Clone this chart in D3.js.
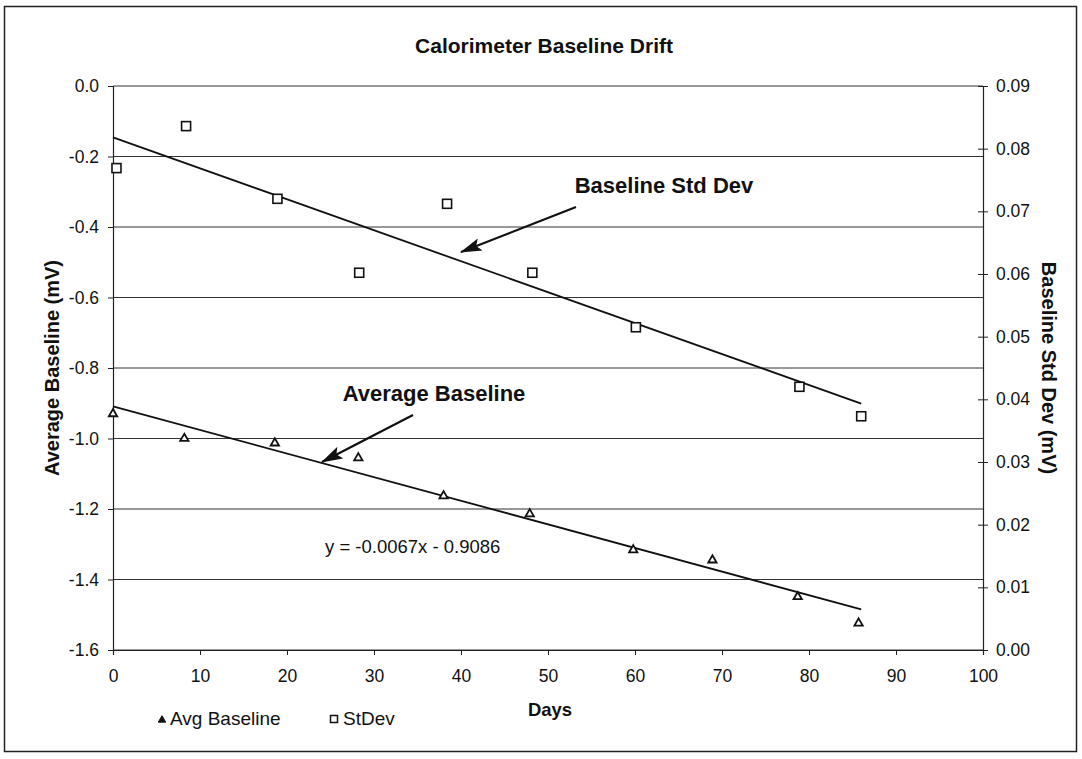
<!DOCTYPE html>
<html><head><meta charset="utf-8">
<script src="https://cdn.jsdelivr.net/npm/d3@7"></script>
<style>body{margin:0;background:#fff}svg{display:block}text{font-family:"Liberation Sans",Arial,sans-serif;fill:#111}</style>
</head><body><svg id="c" width="1082" height="759"></svg>
<script>
const days = [0, 8.2, 18.6, 28.2, 38.0, 47.9, 59.8, 68.9, 78.7, 85.7];
const avgBaseline = [-0.93, -1.0, -1.013, -1.055, -1.163, -1.214, -1.316, -1.345, -1.449, -1.524];
const sdDays = [0.4, 8.4, 18.9, 28.3, 38.4, 48.2, 60.1, 78.9, 86.0];
const stDev = [0.0769, 0.0836, 0.0720, 0.0602, 0.0712, 0.0602, 0.0515, 0.0420, 0.0373];
const avgTrend = [-0.0067, -0.9086];   // slope, intercept
const sdTrend = [-0.000494, 0.0818];
const trendRange = [0, 86];
const xTicks = [0,10,20,30,40,50,60,70,80,90,100];
const yLeftTicks = [0,-0.2,-0.4,-0.6,-0.8,-1.0,-1.2,-1.4,-1.6];
const yRightTicks = [0,0.01,0.02,0.03,0.04,0.05,0.06,0.07,0.08,0.09];

const svg = d3.select("#c");
const L = 113, R = 983, T = 86, B = 650;
const x = d3.scaleLinear().domain([0,100]).range([L,R]);
const yL = d3.scaleLinear().domain([-1.6,0]).range([B,T]);
const yR = d3.scaleLinear().domain([0,0.09]).range([B,T]);
const FF = "Liberation Sans, Arial, sans-serif";

svg.append("rect").attr("x",4.5).attr("y",6.5).attr("width",1072).attr("height",745)
  .attr("fill","none").attr("stroke","#222").attr("stroke-width",1.5);

// gridlines
svg.append("g").selectAll("line").data(yLeftTicks).join("line")
  .attr("x1",L).attr("x2",R).attr("y1",d=>yL(d)).attr("y2",d=>yL(d))
  .attr("stroke","#333").attr("stroke-width",1);

// axes
const gx = svg.append("g").attr("transform",`translate(0,${B})`)
  .call(d3.axisBottom(x).tickValues(xTicks).tickSize(5).tickPadding(15).tickFormat(d3.format("d")));
const gl = svg.append("g").attr("transform",`translate(${L},0)`)
  .call(d3.axisLeft(yL).tickValues(yLeftTicks).tickSize(5).tickPadding(9).tickFormat(d=>d3.format(".1f")(d).replace("−","-")));
const gr = svg.append("g").attr("transform",`translate(${R},0)`)
  .call(d3.axisRight(yR).tickValues(yRightTicks).tickSize(5).tickPadding(8).tickFormat(d3.format(".2f")));
[gx,gl,gr].forEach(g=>{
  g.select(".domain").attr("stroke","#222").attr("stroke-width",1.2);
  g.selectAll(".tick line").attr("stroke","#222");
  g.selectAll("text").attr("font-size",17.5).attr("fill","#111").attr("font-family",FF);
});
gr.selectAll(".tick line").attr("x1",-5);

// trend lines
const line = d3.line();
const tl = (c,ys)=>trendRange.map(d=>[x(d), ys(c[0]*d+c[1])]);
svg.append("path").attr("d",line(tl(avgTrend,yL))).attr("stroke","#111").attr("stroke-width",1.8).attr("fill","none");
svg.append("path").attr("d",line(tl(sdTrend,yR))).attr("stroke","#111").attr("stroke-width",1.8).attr("fill","none");

// markers
const tri = d3.symbol().type(d3.symbolTriangle).size(30);
svg.append("g").selectAll("path").data(days).join("path")
  .attr("d",tri).attr("transform",(d,i)=>`translate(${x(d)},${yL(avgBaseline[i])})`)
  .attr("fill","#fff").attr("stroke","#111").attr("stroke-width",1.8);
svg.append("g").selectAll("rect").data(sdDays).join("rect")
  .attr("x",d=>x(d)-4.5).attr("y",(d,i)=>yR(stDev[i])-4.5).attr("width",9).attr("height",9)
  .attr("fill","#fff").attr("stroke","#111").attr("stroke-width",1.6);

// arrows
const defs = svg.append("defs");
defs.append("marker").attr("id","ah").attr("viewBox","0 0 20 12").attr("refX",19).attr("refY",6)
  .attr("markerWidth",22).attr("markerHeight",13).attr("markerUnits","userSpaceOnUse").attr("orient","auto")
  .append("path").attr("d","M0,0 L20,6 L0,12 L4,6 z").attr("fill","#111");
svg.append("line").attr("x1",576).attr("y1",207).attr("x2",461).attr("y2",252)
  .attr("stroke","#111").attr("stroke-width",2.2).attr("marker-end","url(#ah)");
svg.append("line").attr("x1",413).attr("y1",415).attr("x2",322).attr("y2",462)
  .attr("stroke","#111").attr("stroke-width",2.2).attr("marker-end","url(#ah)");

// texts
svg.append("text").attr("x",544).attr("y",53).attr("text-anchor","middle")
  .attr("font-size",21).attr("font-weight","bold").text("Calorimeter Baseline Drift");
svg.append("text").attr("x",664).attr("y",193).attr("text-anchor","middle")
  .attr("font-size",22).attr("font-weight","bold").text("Baseline Std Dev");
svg.append("text").attr("x",434).attr("y",401).attr("text-anchor","middle")
  .attr("font-size",22).attr("font-weight","bold").text("Average Baseline");
svg.append("text").attr("x",325).attr("y",553).attr("font-size",18.5).text("y = -0.0067x - 0.9086");
svg.append("text").attr("transform","translate(59,368) rotate(-90)").attr("text-anchor","middle")
  .attr("font-size",20).attr("font-weight","bold").text("Average Baseline (mV)");
svg.append("text").attr("transform","translate(1042,368) rotate(90)").attr("text-anchor","middle")
  .attr("font-size",20).attr("font-weight","bold").text("Baseline Std Dev (mV)");
svg.append("text").attr("x",550).attr("y",716).attr("text-anchor","middle")
  .attr("font-size",18.5).attr("font-weight","bold").text("Days");

// legend
svg.append("path").attr("d",d3.symbol().type(d3.symbolTriangle).size(24))
  .attr("transform","translate(162,720)").attr("fill","#111").attr("stroke","#111");
svg.append("text").attr("x",170).attr("y",725).attr("font-size",19).text("Avg Baseline");
svg.append("rect").attr("x",330.5).attr("y",715.5).attr("width",7).attr("height",7)
  .attr("fill","#fff").attr("stroke","#111").attr("stroke-width",1.5);
svg.append("text").attr("x",343).attr("y",725).attr("font-size",19).text("StDev");
</script></body></html>
